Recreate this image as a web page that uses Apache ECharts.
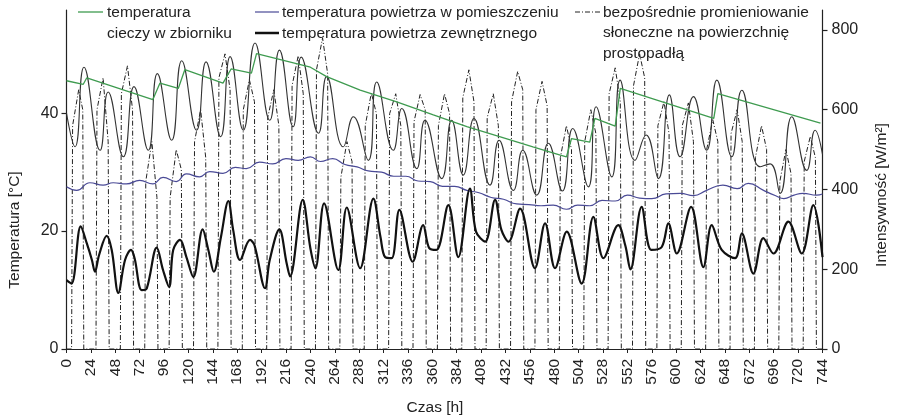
<!DOCTYPE html>
<html><head><meta charset="utf-8">
<script src="https://cdn.jsdelivr.net/npm/echarts@6/dist/echarts.min.js"></script>
<style>html,body{margin:0;padding:0;background:#fff}#c{width:900px;height:420px}</style>
</head><body><div id="c"></div>
<script>
// ---- data (hour, value) ----
const xTickValues = [0,24,48,72,96,120,144,168,192,216,240,264,288,312,336,360,384,408,432,456,480,504,528,552,576,600,624,648,672,696,720,744];
const leftTicks = [0,20,40];
const rightTicks = [0,200,400,600,800];

const seriesNames = [
  'temperatura\ncieczy w zbiorniku',
  'temperatura powietrza w pomieszczeniu',
  'temperatura powietrza zewnętrznego',
  'bezpośrednie promieniowanie\nsłoneczne na powierzchnię\nprostopadłą'
];

const tankTemp = [[0,45.5],[16.5,44.9],[20,46],[85,42.3],[92,45.1],[110,44.2],[116.5,47.4],[154,45.1],[162,47.5],[182,46.8],[187,50.1],[240,47.8],[256,46.2],[289,43.9],[325,41.9],[361,39.7],[394,37.7],[427,36],[459,34.3],[486,32.9],[492,32.6],[497,35.7],[515,35.1],[520,39.1],[540,37.8],[545,44.2],[637,39.1],[641,43.3],[742,38.3]];

const roomTemp = [[0,27.5],[10,26.9],[23,28.2],[36,27.8],[46,28.2],[59,28.0],[72,28.6],[85,28.0],[95,29.1],[108,28.4],[118,29.7],[131,29.2],[141,30.1],[154,29.8],[166,30.8],[177,30.6],[190,31.7],[203,31.4],[216,32.3],[228,32.0],[240,32.6],[250,31.8],[262,32.3],[274,31.3],[286,30.9],[297,30.2],[310,30.0],[322,29.3],[334,29.3],[346,28.5],[358,28.4],[370,27.6],[382,27.6],[394,26.9],[406,26.5],[418,25.7],[430,25.4],[443,24.6],[455,24.5],[467,24.3],[479,24.4],[492,23.7],[503,24.4],[515,24.3],[527,25.2],[540,25.1],[552,26.1],[564,25.6],[576,25.5],[590,26.3],[604,26.4],[617,26.0],[630,26.9],[646,27.8],[660,27.2],[671,28.1],[686,26.9],[698,26.0],[706,25.5],[716,26.1],[725,26.4],[738,26.1],[744,26.3]];

const outdoorTemp = [[0,11.7],[5,11.1],[14,20.8],[20,17.9],[25,15.1],[28,13.1],[32,15.9],[39.5,19.2],[44.5,16.8],[51,9.5],[57.6,15.1],[63.5,16.8],[67,15.4],[74,10],[79,10.3],[88.8,17.2],[95,13.4],[101,10.5],[105,16.8],[111.7,18.5],[118,15.6],[124.8,12.2],[134,20.3],[139.6,16.8],[145,13.1],[152,19],[159.3,25.1],[164,20.2],[170.8,15.1],[180.6,18.5],[185,17.6],[195.4,10.3],[200,15.1],[209.5,20.3],[216.7,14.5],[220,12.3],[232.5,25.3],[240,17.1],[245,13.7],[253.5,24.7],[267.5,13.4],[275.8,24],[289,13.7],[302,25.5],[309,19],[313.5,15.6],[320,15.4],[327.6,23.6],[340.7,14.8],[351,21],[357,17.1],[364,16.8],[375.8,24.4],[385.6,15.6],[397,27.2],[403,19.9],[412,18.2],[421.8,25.3],[428,20.2],[435,18.2],[446.4,23.8],[461,13.7],[471,21.3],[480.8,13.7],[492.3,19.9],[507,11.1],[518.5,22.4],[528.4,15.4],[543,21],[550,17.5],[555,13.5],[566,24.1],[575.6,16.8],[585.8,17.3],[592.3,21.3],[600.6,16.2],[614.7,24.1],[626.8,13.9],[635,21],[644.8,16.8],[658,15.4],[664.6,19.6],[676,12.8],[685.8,18.8],[695.7,16.2],[710.4,21.6],[723.6,16.2],[735,24.4],[744,15.6]];

const collectorTemp = [[0,40],[8.4,34.3],[17.2,47.8],[33,33.7],[41,43.6],[56,32.6],[66.4,44.5],[80.5,33.7],[89.4,46.7],[103.5,35.4],[113.4,48.9],[128,37.1],[137.3,48.7],[151.7,36],[161,49.6],[174,37.1],[185.5,51.9],[200,38.8],[209.5,50.7],[223,37.7],[231,49.5],[248,36.6],[256,46.2],[272.4,34.3],[282.3,39.4],[297,32],[305.3,45.3],[321.6,33.7],[330,40.8],[344.7,30.6],[352.8,38.8],[369.3,28.9],[379,38.8],[390.5,29.5],[401,39.1],[416.8,27.8],[425.7,35.4],[439.8,26.9],[449,33.7],[462.8,26.1],[474.2,34.9],[488,26.8],[498.2,37.4],[513.6,27.5],[521.2,41.1],[536.6,29.2],[544.8,45.6],[559.5,32],[570.4,36.3],[582.5,28.9],[593.3,43.1],[603.8,32.6],[617,42.8],[630,33.7],[640,45.6],[654.7,32.6],[664.6,43.9],[682.6,30.9],[692.4,31.4],[702.3,26.4],[713.8,39.4],[728.5,30.3],[736.7,37.1],[744,33]];

const solarRadiation = [[0,0],
[5,0],[6,560],[12,650],[16,600],[17,0],
[29,0],[30,600],[36,680],[41,520],[42,0],
[53,0],[54,640],[60,710],[65,600],[66,0],
[77,0],[78,420],[84,520],[89,380],[90,0],
[101,0],[102,380],[108,500],[113,450],[114,0],
[125,0],[126,520],[132,600],[137,480],[138,0],
[149,0],[150,680],[156,740],[161,650],[162,0],
[173,0],[174,600],[180,675],[185,620],[186,0],
[197,0],[198,580],[204,650],[209,560],[210,0],
[221,0],[222,660],[228,735],[233,640],[234,0],
[245,0],[246,700],[252,780],[257,690],[258,0],
[269,0],[270,430],[276,520],[281,470],[282,0],
[293,0],[294,560],[300,642],[305,590],[306,0],
[317,0],[318,590],[324,640],[329,560],[330,0],
[341,0],[342,570],[348,638],[353,600],[354,0],
[365,0],[366,560],[372,640],[377,590],[378,0],
[389,0],[390,630],[396,700],[401,620],[402,0],
[413,0],[414,580],[420,640],[425,560],[426,0],
[437,0],[438,620],[444,696],[449,650],[450,0],
[461,0],[462,600],[468,671],[473,610],[474,0],
[485,0],[486,480],[492,560],[497,500],[498,0],
[509,0],[510,520],[516,600],[521,540],[522,0],
[533,0],[534,640],[540,705],[545,620],[546,0],
[557,0],[558,660],[564,740],[569,680],[570,0],
[581,0],[582,560],[588,620],[593,540],[594,0],
[605,0],[606,560],[612,617],[617,520],[618,0],
[629,0],[630,500],[636,575],[641,520],[642,0],
[653,0],[654,540],[660,600],[665,520],[666,0],
[677,0],[678,480],[684,560],[689,500],[690,0],
[701,0],[702,420],[708,500],[713,440],[714,0],
[725,0],[726,470],[732,533],[737,480],[738,0],
[744,0]];

// ---- chart ----
const FONT = 'Liberation Sans';
const LFONT = '15.5px "Liberation Sans"';
const C_GREEN = '#3f9b50', C_BLUE = '#4a4a96', C_BLACK = '#111', C_THIN = '#333', C_SOLAR = '#222';
const solarDash = [5,2,1,2];
const chart = echarts.init(document.getElementById('c'), null, {renderer:'canvas'});
const axisLineStyle = {show:true,lineStyle:{color:'#222',width:1.2}};
chart.setOption({
  animation:false,
  backgroundColor:'#fff',
  textStyle:{fontFamily:FONT},
  grid:{left:66.5,right:77.5,top:10,bottom:71,containLabel:false},
  xAxis:{type:'value',min:0,max:744,interval:24,
    axisLine:{show:true,onZero:false,lineStyle:{color:'#222',width:1.2}},
    axisTick:{show:true,length:4,lineStyle:{color:'#222'},customValues:xTickValues},
    splitLine:{show:false},
    axisLabel:{rotate:90,fontSize:15.5,color:'#222',margin:10,fontFamily:FONT,customValues:xTickValues}
  },
  yAxis:[
    {type:'value',min:0,max:57.5,position:'left',axisLine:axisLineStyle,splitLine:{show:false},
      axisTick:{show:true,length:5,lineStyle:{color:'#222',width:1.2},customValues:leftTicks},
      axisLabel:{fontSize:16,color:'#222',margin:8,fontFamily:FONT,customValues:leftTicks}},
    {type:'value',min:0,max:850,position:'right',axisLine:axisLineStyle,splitLine:{show:false},
      axisTick:{show:true,length:5,lineStyle:{color:'#222',width:1.2},customValues:rightTicks},
      axisLabel:{fontSize:16,color:'#222',margin:9,fontFamily:FONT,customValues:rightTicks}}
  ],
  series:[
    {name:seriesNames[3],type:'line',yAxisIndex:1,data:solarRadiation,showSymbol:false,
      lineStyle:{color:C_SOLAR,width:1,type:solarDash},z:1},
    {name:'collector',type:'line',data:collectorTemp,showSymbol:false,smooth:0.5,
      lineStyle:{color:C_THIN,width:1.1},z:2},
    {name:seriesNames[0],type:'line',data:tankTemp,showSymbol:false,
      lineStyle:{color:C_GREEN,width:1.3},z:3},
    {name:seriesNames[1],type:'line',data:roomTemp,showSymbol:false,smooth:0.5,
      lineStyle:{color:C_BLUE,width:1.2},z:3},
    {name:seriesNames[2],type:'line',data:outdoorTemp,showSymbol:false,smooth:0.35,
      lineStyle:{color:C_BLACK,width:2.2},z:4}
  ],
  graphic:[
    {type:'line',shape:{x1:78,y1:12,x2:103,y2:12},style:{stroke:C_GREEN,lineWidth:1.3}},
    {type:'text',x:107,y:2,style:{text:seriesNames[0],font:LFONT,fill:'#222',verticalAlign:'top',lineHeight:21}},
    {type:'line',shape:{x1:255,y1:12,x2:279,y2:12},style:{stroke:C_BLUE,lineWidth:1.2}},
    {type:'text',x:282,y:2,style:{text:seriesNames[1],font:LFONT,fill:'#222',verticalAlign:'top',lineHeight:21}},
    {type:'line',shape:{x1:255,y1:33,x2:279,y2:33},style:{stroke:C_BLACK,lineWidth:2.5}},
    {type:'text',x:282,y:23,style:{text:seriesNames[2],font:LFONT,fill:'#222',verticalAlign:'top',lineHeight:21}},
    {type:'line',shape:{x1:575,y1:12,x2:600,y2:12},style:{stroke:C_SOLAR,lineWidth:1,lineDash:solarDash}},
    {type:'text',x:603,y:2,style:{text:seriesNames[3],font:LFONT,fill:'#222',verticalAlign:'top',lineHeight:20.5}},
    {type:'text',x:15,y:230,rotation:Math.PI/2,style:{text:'Temperatura [°C]',font:LFONT,fill:'#222',align:'center',verticalAlign:'middle'}},
    {type:'text',x:882,y:195,rotation:Math.PI/2,style:{text:'Intensywność [W/m²]',font:LFONT,fill:'#222',align:'center',verticalAlign:'middle'}},
    {type:'text',x:435,y:408,style:{text:'Czas [h]',font:LFONT,fill:'#222',align:'center',verticalAlign:'middle'}}
  ]
});
</script></body></html>
